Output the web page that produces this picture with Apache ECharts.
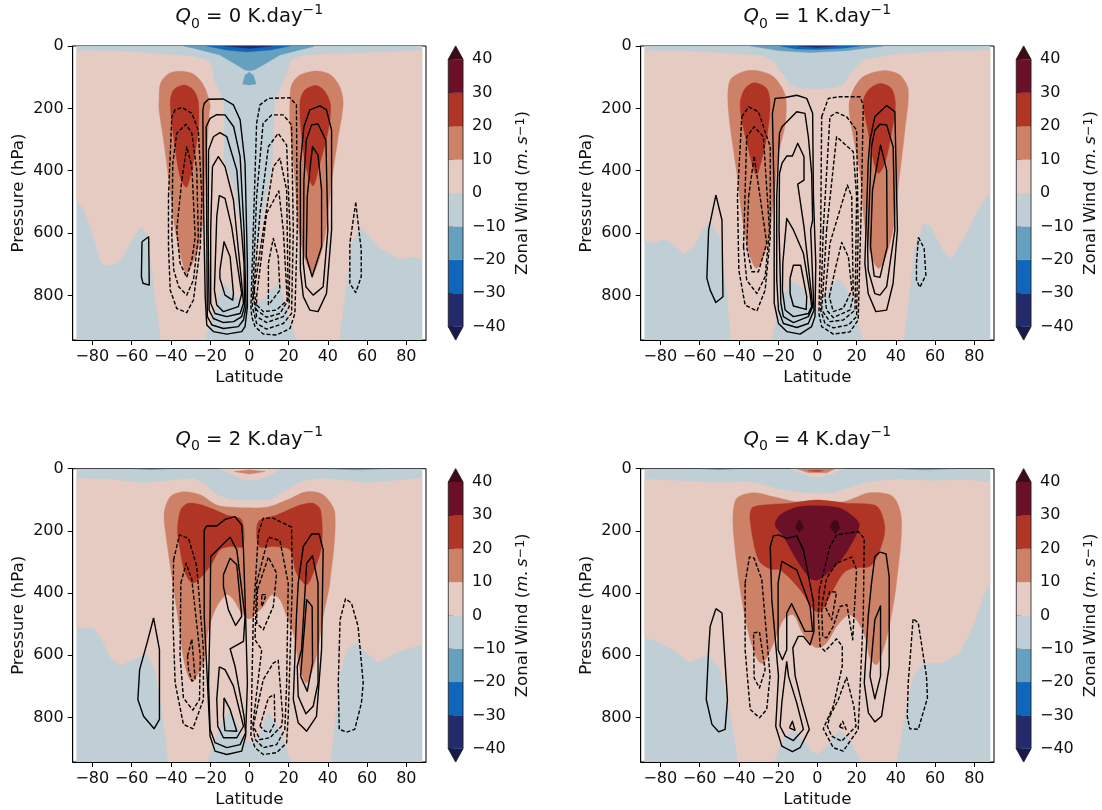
<!DOCTYPE html>
<html><head><meta charset="utf-8">
<script src="https://cdn.jsdelivr.net/npm/echarts@6/dist/echarts.min.js"></script>
<style>html,body{margin:0;padding:0;background:#fff}#c{width:1102px;height:810px}</style>
</head><body><div id="c"></div>
<script>
// Wind bands, each index covers 10 m/s from -40 up; -1 and 8 are the under/over colours
const BAND_EDGES = [-40,-30,-20,-10,0,10,20,30,40];
const BAND_COLORS = ['#232B6C','#0F66BA','#65A0BE','#C0CFD6','#E6CBC3','#CD8268','#B03525','#6B1027'];
const UNDER_COLOR = '#171A4A', OVER_COLOR = '#3F0A17';
const LAT_TICKS = [-80,-60,-40,-20,0,20,40,60,80];
const P_TICKS = [0,200,400,600,800];
const LAT_EDGE = 88, P_BOTTOM = 943;
const Q_VALUES = [0,1,2,4];

// Filled regions: [band, [[lat,pressure],...]]; the whole domain starts as band 3
const Q0_FILL = [
 [4,[[-88,15],[-62,18],[-45,26],[-28,34],[-21,47],[-19,66],[-18,109],[-13,179],[-13,366],[-8,451],[-3,633],[-1.4,740],[-0.5,825],[-2,836],[-7,804],[-13,756],[-18,850],[-23,943],[-45,943],[-48,804],[-51.7,612],[-55,580],[-59,612],[-65,681],[-68,697],[-71,705],[-74,700],[-76,687],[-81,580],[-85,515],[-88,503]]],
 [4,[[88,15],[65,21],[39,26],[26,32],[21,50],[19,88],[13,179],[12,366],[9,473],[4,633],[2,740],[0.7,825],[2,836],[8,804],[15,756],[19,840],[24,943],[45.8,943],[48.6,804],[52,633],[57,580],[66.4,649],[76.6,684],[82.5,676],[88,684]]],
 [2,[[-33.6,0],[-28.5,7],[-15,29],[-6.4,61],[-2.2,77],[0,79],[2.4,77],[7,61],[15.6,29],[32.5,2],[33,0]]],
 [2,[[-3.4,122],[-2.2,93],[0,84],[2,93],[3.4,122],[0,125]]],
 [1,[[-21.7,0],[-11.5,13],[-1.4,19],[10.5,13],[20.7,0]]],
 [0,[[-12.4,0],[0,8],[12,0]]],
 [5,[[-46,173],[-45.3,120],[-41,88],[-35,81],[-28.5,90],[-23.4,125],[-20,189],[-20.5,216],[-23,483],[-24,580],[-26.8,665],[-32,729],[-34.4,687],[-37.8,590],[-41,430],[-43.7,302],[-46,205]]],
 [5,[[20.7,173],[21.5,125],[25.8,93],[34.2,80],[41,91],[46,130],[47.8,184],[45.3,291],[42,430],[38.5,612],[32.5,729],[28,676],[25,580],[23.2,430],[20.7,248]]],
 [6,[[-40.3,179],[-38.6,141],[-33.2,125],[-28.5,141],[-26,179],[-26,270],[-29.3,398],[-32,453],[-35.3,419],[-38.6,291]]],
 [6,[[25.8,179],[28.3,141],[34.2,127],[38.5,146],[41.4,189],[40.2,270],[36,376],[32.5,449],[29.2,398],[26.6,291]]]
];
const Q0_SOLID = [
 [[-23.7,205],[-23,184],[-20.8,171],[-13.2,170],[-8.1,189],[-4.7,237],[-2.2,376],[-1,697],[-1,836],[-2.2,900],[-3.9,916],[-11.5,924],[-18.3,916],[-21.7,895],[-22.5,804],[-23.4,483]],
 [[-22,259],[-20,232],[-16.6,220],[-12.4,221],[-8,259],[-4.7,355],[-2.7,590],[-1.7,836],[-3,879],[-5.6,900],[-13.2,906],[-19,895],[-21.4,868],[-21.7,590]],
 [[-20.8,334],[-18.3,291],[-15,278],[-11.5,291],[-6.4,398],[-2.7,697],[-2.5,836],[-3.9,868],[-8,884],[-13.2,887],[-18.3,874],[-20.5,847],[-21,590]],
 [[-18.8,387],[-15.8,355],[-12.4,387],[-8.1,494],[-3.9,761],[-3,825],[-4.7,858],[-11.5,868],[-17.5,858],[-19.7,825],[-19.7,590]],
 [[-16.6,547],[-15.3,480],[-12.4,489],[-9,580],[-3.9,794],[-5.6,836],[-13.2,852],[-16.6,831],[-17.8,783]],
 [[-15,719],[-12.9,628],[-9.8,676],[-8.1,794],[-8.5,815],[-12.4,799],[-15,745]],
 [[27.8,259],[30.8,205],[36,192],[39.3,205],[41.9,270],[41.9,590],[39.3,794],[35,852],[30.8,847],[27.5,804],[26,719],[26,376]],
 [[29,302],[31.7,253],[35,250],[39,302],[40,590],[37.6,772],[32.5,799],[28.8,772],[27.5,697],[27.8,430]],
 [[31.2,376],[32.2,323],[35,350],[36.8,462],[36.8,644],[32,740],[29,676],[29.5,483]],
 [[-54.7,628],[-51.3,612],[-51,767],[-54.2,761],[-55,740]]
];
const Q0_DASHED = [
 [[-41.2,483],[-39.5,227],[-37.8,205],[-34.4,197],[-29.3,216],[-26,270],[-24.2,483],[-25,644],[-28.5,815],[-31.9,855],[-37,842],[-40.3,783],[-41.2,644]],
 [[-39.5,612],[-39,376],[-37,280],[-32.3,251],[-29.3,280],[-26.8,398],[-26,612],[-28.5,751],[-31.9,799],[-36,772],[-38.5,719]],
 [[-34.4,430],[-31.9,323],[-29.3,387],[-27.6,612],[-29.3,687],[-31.9,742],[-35.3,697],[-37,590]],
 [[3.7,248],[5.4,189],[9.7,168],[20.7,166],[24,189],[24.4,590],[23.2,858],[20.7,906],[13.9,927],[7.1,924],[2.9,900],[1.2,868],[0.8,836]],
 [[1.5,836],[3.7,483],[7,248],[11.4,221],[17.3,221],[21.5,253],[22.4,590],[21.5,858],[17.3,890],[8.8,908],[3.7,890]],
 [[2,804],[5.4,537],[9.7,323],[14.7,280],[19,318],[20.7,590],[20.3,836],[17.3,868],[8.8,887],[3.7,868]],
 [[2.5,783],[7.1,590],[12.2,387],[15.6,360],[19,462],[19.8,815],[15.6,858],[8.8,870],[3.7,847]],
 [[3.7,804],[8.8,537],[15,465],[17.3,590],[19.3,815],[13.9,847],[7.1,852],[3.7,830]],
 [[9.7,831],[9.7,697],[12.2,617],[14.7,676],[15.6,783]],
 [[54.2,502],[57,654],[57,740],[54.2,791],[51.2,761],[51.2,633]]
];

const Q1_FILL = [
 [4,[[-88,15],[-64.7,18],[-44.4,24],[-27.5,32],[-22.4,50],[-18.1,88],[-13.9,125],[-8.8,136],[0,138],[8.1,136],[13.2,125],[18.3,77],[23.4,45],[40.3,26],[65.8,18],[88,15],[88,471],[82.7,515],[75.9,601],[68.3,683],[64,655],[58,580],[53.9,569],[49.7,644],[44.6,911],[44,943],[23.2,943],[17.3,804],[11.4,745],[6.3,767],[2,836],[0,845],[-3.9,825],[-7.3,777],[-13,751],[-18.3,810],[-23.4,943],[-44,943],[-46,804],[-49.5,612],[-54.6,564],[-58.8,590],[-63,644],[-68,667],[-73,638],[-78,620],[-83.4,631],[-88,627]]],
 [4,[[-1.7,60],[1.7,60],[1.7,62],[-1.7,62]]],
 [2,[[-34.2,0],[-19,15],[-3.7,21],[14.9,15],[33.6,0]]],
 [1,[[-19,0],[-10.5,10],[0,11],[13.2,7],[21.7,0]]],
 [0,[[-10,0],[0,5],[10,0]]],
 [5,[[-45.6,173],[-44.4,109],[-37.6,82],[-30.8,79],[-22.4,98],[-16.4,157],[-16,227],[-17.3,280],[-19.8,344],[-22.4,505],[-25.8,644],[-30.8,713],[-34.2,676],[-37.6,580],[-41,409],[-44.4,259]]],
 [5,[[16.1,195],[18.3,141],[23.4,98],[33.6,79],[42,93],[46.3,141],[44.6,270],[41.2,451],[38.6,590],[33.6,697],[31,713],[27.6,676],[24.2,580],[21.7,409],[18.3,291]]],
 [6,[[-39.3,179],[-36.8,136],[-32.2,118],[-25.8,136],[-24.1,184],[-25.4,280],[-30,403],[-31.7,409],[-35,334],[-38.5,237]]],
 [6,[[23.4,179],[26,141],[31.9,120],[37.8,136],[39.8,189],[37.8,280],[34.4,376],[31,409],[28.5,366],[26,280]]]
];
const Q1_SOLID = [
 [[-22.9,216],[-21.5,168],[-16.4,165],[-10.5,158],[-5.4,168],[-2.4,216],[-2,483],[-0.8,697],[-1.2,868],[-2.9,900],[-8.8,924],[-15.6,916],[-19.8,890],[-22,825],[-22,483]],
 [[-20.7,483],[-19.3,280],[-18,259],[-10.5,211],[-6.3,216],[-4.6,291],[-2.9,409],[-2.4,558],[-3.4,590],[-2,804],[-1.7,847],[-4.6,890],[-10.5,903],[-17.3,890],[-19.8,847],[-20.7,751]],
 [[-19.5,590],[-19.3,409],[-18,376],[-15.6,353],[-12.7,353],[-10,312],[-6.8,355],[-6.8,430],[-10,443],[-6.8,580],[-2.9,804],[-2.4,836],[-4.6,868],[-12.2,887],[-17.3,868],[-18.6,825]],
 [[-17.6,697],[-15.6,553],[-12.2,590],[-7.1,665],[-3.7,794],[-2.9,836],[-4.6,858],[-12.2,868],[-16.4,847],[-17.8,783]],
 [[-13.9,745],[-12.2,703],[-8.5,703],[-5.4,804],[-5.7,845],[-12.2,834],[-13.9,794]],
 [[26.8,302],[29.3,227],[35.3,191],[39.5,211],[40.8,590],[38.6,761],[35.3,847],[29.8,852],[25.9,794],[24.2,697],[25.9,376]],
 [[27.6,323],[29.3,270],[31.9,251],[35.3,253],[38.6,323],[39.5,590],[35.3,772],[31.9,799],[29.3,794],[25.9,719],[25.6,644]],
 [[28.1,462],[32.2,318],[35.3,398],[35.6,644],[31.9,742],[29,738],[27.1,644]],
 [[-51.7,478],[-48.6,558],[-48.1,804],[-51.7,823],[-54.6,783],[-56.3,745],[-55.4,590]]
];
const Q1_DASHED = [
 [[-38.5,227],[-35,195],[-30,211],[-24,323],[-24,612],[-26.6,783],[-30.8,850],[-36.8,831],[-40,719],[-40.7,483]],
 [[-37.6,644],[-36,291],[-32.2,259],[-27.5,291],[-24.4,590],[-26.6,740],[-30.8,794],[-36,751]],
 [[-35,483],[-32.2,353],[-29.2,483],[-25.8,633],[-30,724],[-33.4,724],[-36,644]],
 [[2.2,227],[5.6,168],[10.7,163],[21.7,163],[23.4,189],[22.5,483],[20.8,879],[16.6,917],[8.1,924],[2.2,900],[0.8,858],[1.7,590]],
 [[3,590],[6.4,227],[9.8,213],[14.9,227],[20,270],[20.8,590],[20,868],[15.8,895],[8.1,904],[3.9,890],[1.7,847]],
 [[4.7,590],[9.8,291],[18.3,339],[20,483],[19.2,847],[13.2,879],[6.4,884],[2.2,847],[2.7,804]],
 [[3.9,804],[6.4,633],[15.3,446],[17.5,483],[18.3,804],[16.6,847],[8.1,871],[4.7,847]],
 [[6.1,804],[9,719],[12.4,630],[15.8,676],[17.6,783],[13.2,841],[8.1,852]],
 [[51.5,614],[54.4,649],[55.3,735],[52.2,774],[50.5,751],[50.5,697]]
];

const Q2_FILL = [
 [4,[[-88,31],[-70.9,34],[-54,47],[-42,39],[-28.5,31],[-23.4,47],[-16.6,84],[-9.8,101],[0,103],[10.5,101],[19,68],[25.8,42],[36,31],[47.8,36],[59.7,47],[73.2,39],[88,31],[88,566],[76.6,587],[65.6,622],[59.7,592],[54.6,558],[49.5,582],[46,667],[41.4,943],[21.5,943],[15.6,840],[9.7,781],[8,808],[3.7,872],[0,876],[-3,872],[-7.3,808],[-9.8,776],[-13.2,803],[-21.7,943],[-41.2,943],[-44.6,774],[-48,646],[-52.5,592],[-59,614],[-65.8,632],[-70.9,608],[-75,550],[-79.3,512],[-88,510]]],
 [4,[[-15,0],[-8.1,20],[-3.9,34],[0,36],[5.4,34],[12.2,17],[15.6,0]]],
 [5,[[-7.8,9],[0,17],[8,9],[0,4]]],
 [2,[[-60,0],[-50,3],[-40,0]]],
 [2,[[40,0],[55,4],[70,0]]],
 [5,[[-43.4,143],[-40.3,90],[-33.6,74],[-25,84],[-16.6,117],[-8.1,124],[8.8,124],[19,101],[29,74],[37.6,84],[43.6,143],[41,368],[37.6,475],[34.2,603],[29.2,689],[25.8,646],[22.4,528],[19,475],[15.6,421],[11.4,405],[7.1,443],[3.7,464],[0,483],[-3.9,464],[-8.1,421],[-11.5,405],[-16.6,443],[-20.8,518],[-23.4,625],[-29.3,683],[-32.7,635],[-36,496],[-39.5,346],[-42.4,218]]],
 [6,[[-36.6,197],[-35,133],[-31,111],[-21.7,122],[-11.5,149],[-3.9,165],[-3.4,250],[-9.8,250],[-15,261],[-20,314],[-28.5,368],[-32.7,336],[-35.6,250]]],
 [6,[[3.7,191],[5.4,165],[13.9,149],[25.8,117],[32.5,111],[36.3,133],[36.8,250],[32.5,336],[29.2,373],[24,336],[20.7,261],[12.2,250],[5,250]]]
];
const Q2_SOLID = [
 [[-23,197],[-21.7,184],[-16.6,184],[-12.4,163],[-7.3,154],[-3.9,181],[-3,261],[-1.9,475],[-1,689],[-1.9,860],[-3.9,908],[-11.5,919],[-17.5,908],[-20,860],[-23,475]],
 [[-20,475],[-19.7,282],[-9.8,220],[-6.4,261],[-2.2,475],[-3,555],[-9.8,579],[-7.3,635],[-2.7,796],[-1.9,849],[-4.7,887],[-11.5,897],[-17.5,881],[-20,838],[-20.8,689]],
 [[-13.2,341],[-9.8,288],[-6.4,309],[-3.9,475],[-7,504],[-10.7,453],[-13.2,379]],
 [[-15.3,637],[-12.4,646],[-8.1,699],[-3,828],[-6.4,865],[-13.2,865],[-16.1,828],[-16.6,740]],
 [[-12.9,737],[-9.8,774],[-6.4,844],[-12.4,842],[-13.2,796]],
 [[24.9,368],[27.5,250],[31.7,210],[35.6,210],[37.6,261],[36.8,582],[34.2,796],[29.2,844],[24.9,817],[22.4,742],[24,475]],
 [[26.6,582],[29.2,304],[32.2,280],[35,368],[35,689],[32.5,764],[28.8,788],[24.9,732],[24.4,635]],
 [[26.1,667],[29.2,421],[32,443],[32.2,625],[29.5,716]],
 [[-48.8,480],[-45.8,582],[-45.8,806],[-48.5,836],[-53.9,796],[-56.8,742],[-55.9,646],[-51.9,555]]
];
const Q2_DASHED = [
 [[-38.6,293],[-35.6,213],[-31,224],[-26.8,314],[-23.4,582],[-23.4,742],[-28.8,836],[-33.6,822],[-37.8,689],[-39,475]],
 [[-34.9,368],[-32.2,304],[-29.3,357],[-25,603],[-25.4,742],[-28.8,776],[-33.6,737],[-35.3,603]],
 [[-31.5,603],[-29.3,548],[-27.6,678],[-29.2,683],[-31,646]],
 [[2,475],[4.6,207],[7.1,159],[12.2,159],[21.5,188],[21.9,368],[19.8,796],[19,881],[13.9,913],[7.1,919],[2.9,897],[0.8,860]],
 [[3.7,368],[9.7,220],[15.6,231],[19.8,368],[19,689],[18.1,838],[13.9,887],[7.1,897],[2.9,870],[1.7,828],[6.3,582],[2.9,550]],
 [[4.1,389],[9.7,284],[13.9,336],[12.2,443],[7.1,518],[3.7,496]],
 [[6.3,405],[8.5,405],[7.1,432],[6.3,443]],
 [[2,828],[7.1,678],[12.2,625],[14.7,616],[17,796],[16.4,828],[10.5,865],[5.4,871],[3.7,849]],
 [[5.4,828],[9.7,737],[12.7,726],[13,817],[10.5,847],[8,844]],
 [[45.8,582],[46.2,486],[49,418],[52,432],[55.4,507],[58,689],[57.1,753],[53.7,838],[49.5,847],[45.8,838],[45.3,689]]
];

const Q4_FILL = [
 [4,[[-88,34],[-69.8,39],[-52.9,45],[-35.9,42],[-27.5,52],[-19,68],[-7.1,77],[0,79],[8.1,77],[18.3,58],[26.8,42],[40.3,34],[57.3,39],[74.2,36],[88,42],[88,363],[84.4,411],[79.3,507],[72.5,592],[63.2,625],[53.9,625],[48.8,667],[44.6,796],[40.3,943],[22.5,943],[17.5,881],[11.5,841],[8.1,860],[4.7,892],[0,919],[-2.9,908],[-7.1,871],[-12.2,841],[-16.4,860],[-22.4,943],[-40.2,943],[-44.4,785],[-49.5,646],[-55.4,598],[-65.6,622],[-73.2,582],[-80,560],[-88,541]]],
 [4,[[-13.9,0],[-5.4,20],[0,28],[8.1,15],[13.2,0]]],
 [5,[[-10.5,0],[-4.6,13],[4.7,13],[9,0]]],
 [6,[[-4.6,7],[0,9],[3,7],[0,5]]],
 [2,[[-60,0],[-50,3],[-40,0]]],
 [2,[[40,0],[55,4],[70,0]]],
 [5,[[-43,154],[-41,95],[-32.5,77],[-22.4,90],[-10.5,106],[0,101],[13.2,106],[26.8,77],[38.6,90],[42.9,165],[40.3,368],[37,496],[33.6,582],[30.2,630],[26.8,609],[24.2,539],[20,486],[15.8,470],[9.8,507],[4.7,560],[0,576],[-2.9,566],[-8,523],[-12.2,470],[-17.3,486],[-21.5,550],[-27.5,625],[-30,619],[-34.2,550],[-38.5,421],[-41.9,261]]],
 [6,[[-34.2,170],[-33.4,127],[-27.5,117],[-13.9,111],[0,101],[14.9,111],[29.3,117],[32.7,143],[34.4,197],[31.9,261],[26.8,314],[18.3,319],[13.2,336],[8.1,389],[1.4,462],[-2,453],[-8.8,389],[-19,325],[-24,323],[-30,293]]],
 [7,[[-21.5,181],[-19,149],[-10.5,124],[0,119],[11.5,127],[18.3,154],[21.4,181],[16.6,250],[9.8,309],[0.5,357],[-3.7,352],[-10.5,293],[-17.3,218]]],
 [8,[[-11.2,188],[-9.7,167],[-8.5,167],[-7.1,191],[-9.3,204]]],
 [8,[[6.4,186],[8.1,167],[10.2,167],[11.5,191],[9,210]]]
];
const Q4_SOLID = [
 [[-24,250],[-22.4,216],[-19.8,213],[-15.6,224],[-10.5,216],[-7.1,261],[-2,428],[-1.7,523],[-3.7,566],[-7.1,539],[-9.7,539],[-12.5,576],[-11.3,667],[-7.9,753],[-4.1,838],[-8.8,897],[-12.7,910],[-18.1,892],[-21.2,828],[-19.8,667],[-23.2,421]],
 [[-20,582],[-20,368],[-18.1,298],[-10.5,325],[-3.7,443],[-2.4,523],[-6.3,523],[-13.1,434],[-15.6,464],[-15.6,582],[-17.8,614]],
 [[-15.6,619],[-14.7,667],[-10.5,753],[-7.1,838],[-12.2,874],[-16.4,860],[-19,828],[-18.1,753]],
 [[-14.2,833],[-12.7,812],[-11.4,841]],
 [[27.6,368],[29.3,282],[31.9,268],[35,274],[36.6,347],[36.6,635],[32.7,796],[29.3,814],[26,785],[23.9,689],[25.9,475]],
 [[26.8,667],[29.3,486],[32.2,441],[32.2,667],[29.3,740]],
 [[-51.7,450],[-48.6,464],[-45.8,742],[-47,838],[-50.3,846],[-53.7,822],[-56.6,742],[-55.4,582],[-54.6,507]]
];
const Q4_DASHED = [
 [[-36.8,368],[-34.6,284],[-32.2,288],[-28.3,357],[-24.1,667],[-25.8,774],[-29.5,801],[-34.2,774],[-36.8,582]],
 [[-32.5,528],[-29.5,525],[-26.6,646],[-29.5,705],[-32.2,673]],
 [[1,389],[6.4,250],[9.8,213],[20.8,202],[23.9,224],[23.4,475],[20.8,838],[13.2,908],[8.1,897],[3,836],[8.1,764],[12.7,635],[12.7,571],[9.8,547],[3.9,587],[1.4,571],[0.5,475]],
 [[2.7,539],[2.2,443],[4.7,352],[9.8,304],[17.5,284],[20,325],[18,550],[15,437],[11.5,443],[8.1,507],[4.7,544]],
 [[3.9,443],[6.4,395],[9.8,397],[7.3,486]],
 [[6.4,796],[10.7,742],[14.9,671],[18.6,764],[19.7,828],[12.4,876],[7.3,860],[5.1,828]],
 [[11.2,830],[12.9,812],[14.6,838]],
 [[46.3,689],[48.8,482],[51.4,496],[55.6,667],[56.1,737],[51.4,838],[47.1,836],[45.8,796]]
];

const PANELS = [
 {q:Q_VALUES[0], fill:Q0_FILL, solid:Q0_SOLID, dashed:Q0_DASHED, left:72.7, top:46,    height:294,   cbar:448.3},
 {q:Q_VALUES[1], fill:Q1_FILL, solid:Q1_SOLID, dashed:Q1_DASHED, left:640.7, top:46,   height:294,   cbar:1016.3},
 {q:Q_VALUES[2], fill:Q2_FILL, solid:Q2_SOLID, dashed:Q2_DASHED, left:72.7, top:468.7, height:293.3, cbar:448.3},
 {q:Q_VALUES[3], fill:Q4_FILL, solid:Q4_SOLID, dashed:Q4_DASHED, left:640.7, top:468.7,height:293.3, cbar:1016.3}
];
const AX_W = 353.3, CB_W = 14.7, CB_PAD = 13.3;
const FONT = '"DejaVu Sans"';
const TICK = 16, NAME = 16.6, INK = '#000', TXT = '#111';
const minusFmt = v => String(v).replace('-', '\u2212');
const bandColor = b => b >= BAND_COLORS.length ? OVER_COLOR : b < 0 ? UNDER_COLOR : BAND_COLORS[b];

const option = {animation:false, backgroundColor:'#fff', tooltip:{show:false},
  title:[], grid:[], xAxis:[], yAxis:[], series:[]};

PANELS.forEach((P, k) => {
  const g = k*2, c = k*2+1;
  option.grid.push({left:P.left, top:P.top, width:AX_W, height:P.height, show:true, backgroundColor:'#fff', borderColor:INK, borderWidth:1, containLabel:false});
  option.grid.push({left:P.cbar, top:P.top+CB_PAD, width:CB_W, height:P.height-2*CB_PAD, show:false, containLabel:false});
  const tt = {fontFamily:FONT, fontWeight:'normal', color:TXT, lineHeight:28};
  option.title.push({
    text:'{i|Q}{sub|0}{n| = '+P.q+' K.day}{sup|\u22121}',
    left:P.left+AX_W/2-5, top:P.top-48, textAlign:'center',
    textStyle:{fontWeight:'normal', rich:{
      i:{...tt, fontStyle:'italic', fontSize:19.6},
      n:{...tt, fontSize:19.6},
      sub:{...tt, fontSize:14, verticalAlign:'bottom'},
      sup:{...tt, fontSize:14, verticalAlign:'top'}
    }}
  });
  option.xAxis.push({gridIndex:g, type:'value', min:-90, max:90, name:'Latitude', nameLocation:'middle', nameGap:29,
    nameTextStyle:{fontFamily:FONT, fontSize:NAME, color:TXT}, splitLine:{show:false},
    axisLine:{show:true, onZero:false, lineStyle:{color:INK, width:1}},
    axisTick:{show:true, length:5, customValues:LAT_TICKS, lineStyle:{color:INK, width:1}},
    axisLabel:{fontFamily:FONT, fontSize:TICK, color:TXT, margin:9, customValues:LAT_TICKS, formatter:minusFmt}});
  option.yAxis.push({gridIndex:g, type:'value', inverse:true, min:0, max:P_BOTTOM, name:'Pressure (hPa)', nameLocation:'middle', nameGap:46, nameRotate:90,
    nameTextStyle:{fontFamily:FONT, fontSize:NAME, color:TXT}, splitLine:{show:false},
    axisLine:{show:true, onZero:false, lineStyle:{color:INK, width:1}},
    axisTick:{show:true, length:5, customValues:P_TICKS, lineStyle:{color:INK, width:1}},
    axisLabel:{fontFamily:FONT, fontSize:TICK, color:TXT, margin:9, padding:[2,0,0,0], customValues:P_TICKS}});
  option.xAxis.push({gridIndex:c, type:'value', min:0, max:1, show:false});
  option.yAxis.push({gridIndex:c, type:'value', position:'right', min:-40, max:40, interval:10,
    name:'{n|Zonal Wind (}{i|m.\u2009s}{s|\u22121}{n|)}', nameLocation:'middle', nameGap:51, nameRotate:90,
    nameTextStyle:{rich:{
      n:{fontFamily:FONT, fontSize:NAME, color:TXT},
      i:{fontFamily:FONT, fontSize:NAME, fontStyle:'italic', color:TXT},
      s:{fontFamily:FONT, fontSize:12.5, color:TXT, verticalAlign:'top'}}},
    splitLine:{show:false}, axisLine:{show:false},
    axisTick:{show:true, length:5, lineStyle:{color:INK, width:1}},
    axisLabel:{fontFamily:FONT, fontSize:TICK, color:TXT, margin:9, padding:[2,0,0,0], formatter:minusFmt}});

  // filled wind regions, base domain first
  const regions = [[3, [[-LAT_EDGE,0],[LAT_EDGE,0],[LAT_EDGE,P_BOTTOM],[-LAT_EDGE,P_BOTTOM]]]].concat(P.fill);
  option.series.push({type:'custom', xAxisIndex:g, yAxisIndex:g, silent:true, clip:true, z:2,
    data:regions.map((r,i)=>[r[0],i]),
    renderItem:(params, api) => {
      const r = regions[params.dataIndex];
      const col = bandColor(r[0]);
      return {type:'polygon', shape:{points:r[1].map(p=>api.coord(p)), smooth:r[0]>=5 && r[1].length>6 ? 0.3 : 0}, style:{fill:col, stroke:col, lineWidth:0.4}};
    }});
  // circulation contours, closed paths
  const addLines = (list, dashed) => list.forEach(pts => {
    option.series.push({type:'line', xAxisIndex:g, yAxisIndex:g, silent:true, z:3, symbol:'none', smooth:false, clip:true,
      data:pts.concat([pts[0]]),
      lineStyle:{color:'#000', width:1.4, type:dashed?[4,2]:'solid', join:'round'}});
  });
  addLines(P.solid, false);
  addLines(P.dashed, true);

  // colour bar
  const cb = BAND_COLORS.map((col,i)=>[[0,BAND_EDGES[i]],[1,BAND_EDGES[i]],[1,BAND_EDGES[i+1]],[0,BAND_EDGES[i+1]]]);
  const shapes = [
    {pts:[[0,-40],[1,-40],[0.5,-44]], col:UNDER_COLOR},
    {pts:[[0,40],[1,40],[0.5,44]], col:OVER_COLOR}
  ].concat(cb.map((pts,i)=>({pts, col:BAND_COLORS[i]})));
  option.series.push({type:'custom', xAxisIndex:c, yAxisIndex:c, silent:true, clip:false, z:2,
    data:shapes.map((s,i)=>[0,i]),
    renderItem:(params, api) => {
      const s = shapes[params.dataIndex];
      return {type:'polygon', shape:{points:s.pts.map(p=>api.coord(p))}, style:{fill:s.col, stroke:s.col, lineWidth:0.3}};
    }});
  const outline = [[0,-40],[0.5,-44],[1,-40],[1,40],[0.5,44],[0,40]];
  option.series.push({type:'custom', xAxisIndex:c, yAxisIndex:c, silent:true, clip:false, z:3,
    data:[[0,0]],
    renderItem:(params, api) => ({type:'polygon', shape:{points:outline.map(p=>api.coord(p))}, style:{fill:'none', stroke:'#222', lineWidth:0.8}})});
});
const chart = echarts.init(document.getElementById('c'), null, {renderer:'canvas'});
chart.setOption(option);
</script></body></html>
